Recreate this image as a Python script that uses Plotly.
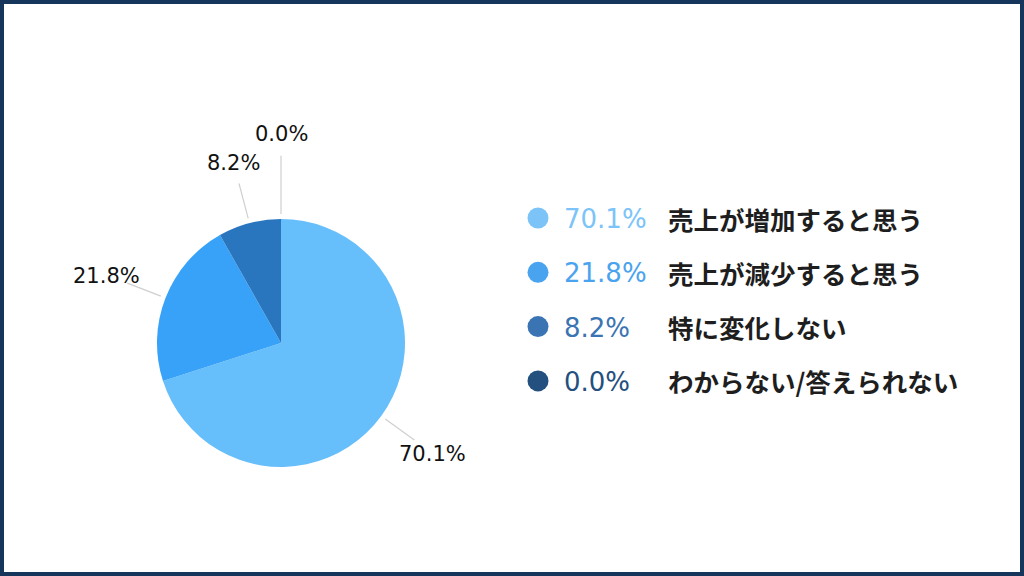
"""Pie chart of sales outlook answers with a custom legend on the right."""

import math

import plotly.graph_objects as go

labels = ["売上が増加すると思う", "売上が減少すると思う", "特に変化しない", "わからない/答えられない"]
values = [70.1, 21.8, 8.2, 0.0]

slice_colors = ["#66BEFB", "#37A2F7", "#2A76BE", "#1F4E80"]
legend_colors = ["#7CC4F8", "#4AA3EF", "#3A74B3", "#23507F"]

W, H = 1024, 576
CX, CY, R = 281, 343, 124
LEGEND_X, LEGEND_Y0, LEGEND_DY = 538, 218, 54.3

fig = go.Figure()

fig.add_trace(
    go.Pie(
        labels=labels,
        values=values,
        sort=False,
        direction="clockwise",
        rotation=0,
        textinfo="none",
        hoverinfo="label+percent",
        marker={"colors": slice_colors, "line": {"width": 0}},
        showlegend=False,
        domain={
            "x": [(CX - R) / W, (CX + R) / W],
            "y": [1 - (CY + R) / H, 1 - (CY - R) / H],
        },
    )
)

# outside labels with leader lines, pushed outwards when they collide
total = sum(values)
placed = []
start = 0.0
for value in values:
    mid = (start + value / 2) / total * 2 * math.pi
    start += value
    sx, sy = math.sin(mid), -math.cos(mid)
    factor = 1.51
    while any(
        abs(CY + sy * R * factor - py) < 28 and abs(CX + sx * R * factor - px) < 70
        for px, py in placed
    ):
        factor += 0.02
    lx, ly = CX + sx * R * factor, CY + sy * R * factor
    placed.append((lx, ly))
    fig.add_shape(
        type="line",
        xref="x",
        yref="y",
        x0=CX + sx * R * 1.04,
        y0=CY + sy * R * 1.04,
        x1=CX + sx * R * (factor - 0.18),
        y1=CY + sy * R * (factor - 0.18),
        line={"color": "#cfcfcf", "width": 1.2},
        layer="below",
    )
    fig.add_annotation(
        x=lx,
        y=ly + 1,
        xref="x",
        yref="y",
        text=f"{value:.1f}%",
        showarrow=False,
        font={"family": "DejaVu Sans", "size": 21, "color": "#111111"},
    )

# legend on the right
rows = [LEGEND_Y0 + i * LEGEND_DY for i in range(len(labels))]
fig.add_trace(
    go.Scatter(
        x=[LEGEND_X] * len(labels),
        y=rows,
        mode="markers",
        marker={"size": 21, "color": legend_colors},
        hoverinfo="skip",
        showlegend=False,
    )
)
for label, value, color, y in zip(labels, values, legend_colors, rows):
    fig.add_annotation(
        x=LEGEND_X + 24,
        y=y + 1,
        xref="x",
        yref="y",
        xanchor="left",
        text=f"{value:.1f}%",
        showarrow=False,
        font={"family": "DejaVu Sans", "size": 26, "color": color},
    )
    fig.add_annotation(
        x=LEGEND_X + 128,
        y=y,
        xref="x",
        yref="y",
        xanchor="left",
        text=label,
        showarrow=False,
        font={"family": "Noto Sans CJK JP", "size": 25.5, "color": "#1e1e1e", "weight": 600},
    )

# navy frame
fig.add_shape(
    type="rect",
    xref="paper",
    yref="paper",
    x0=0,
    y0=0,
    x1=1,
    y1=1,
    line={"color": "#15355A", "width": 8},
)

fig.update_layout(
    width=W,
    height=H,
    margin={"l": 0, "r": 0, "t": 0, "b": 0},
    paper_bgcolor="white",
    plot_bgcolor="rgba(0,0,0,0)",
    xaxis={"range": [0, W], "visible": False, "fixedrange": True},
    yaxis={"range": [H, 0], "visible": False, "fixedrange": True},
)

fig.write_html(
    "out.html",
    config={"displayModeBar": False},
    post_script="document.body.style.margin='0';document.body.style.overflow='hidden';",
)
